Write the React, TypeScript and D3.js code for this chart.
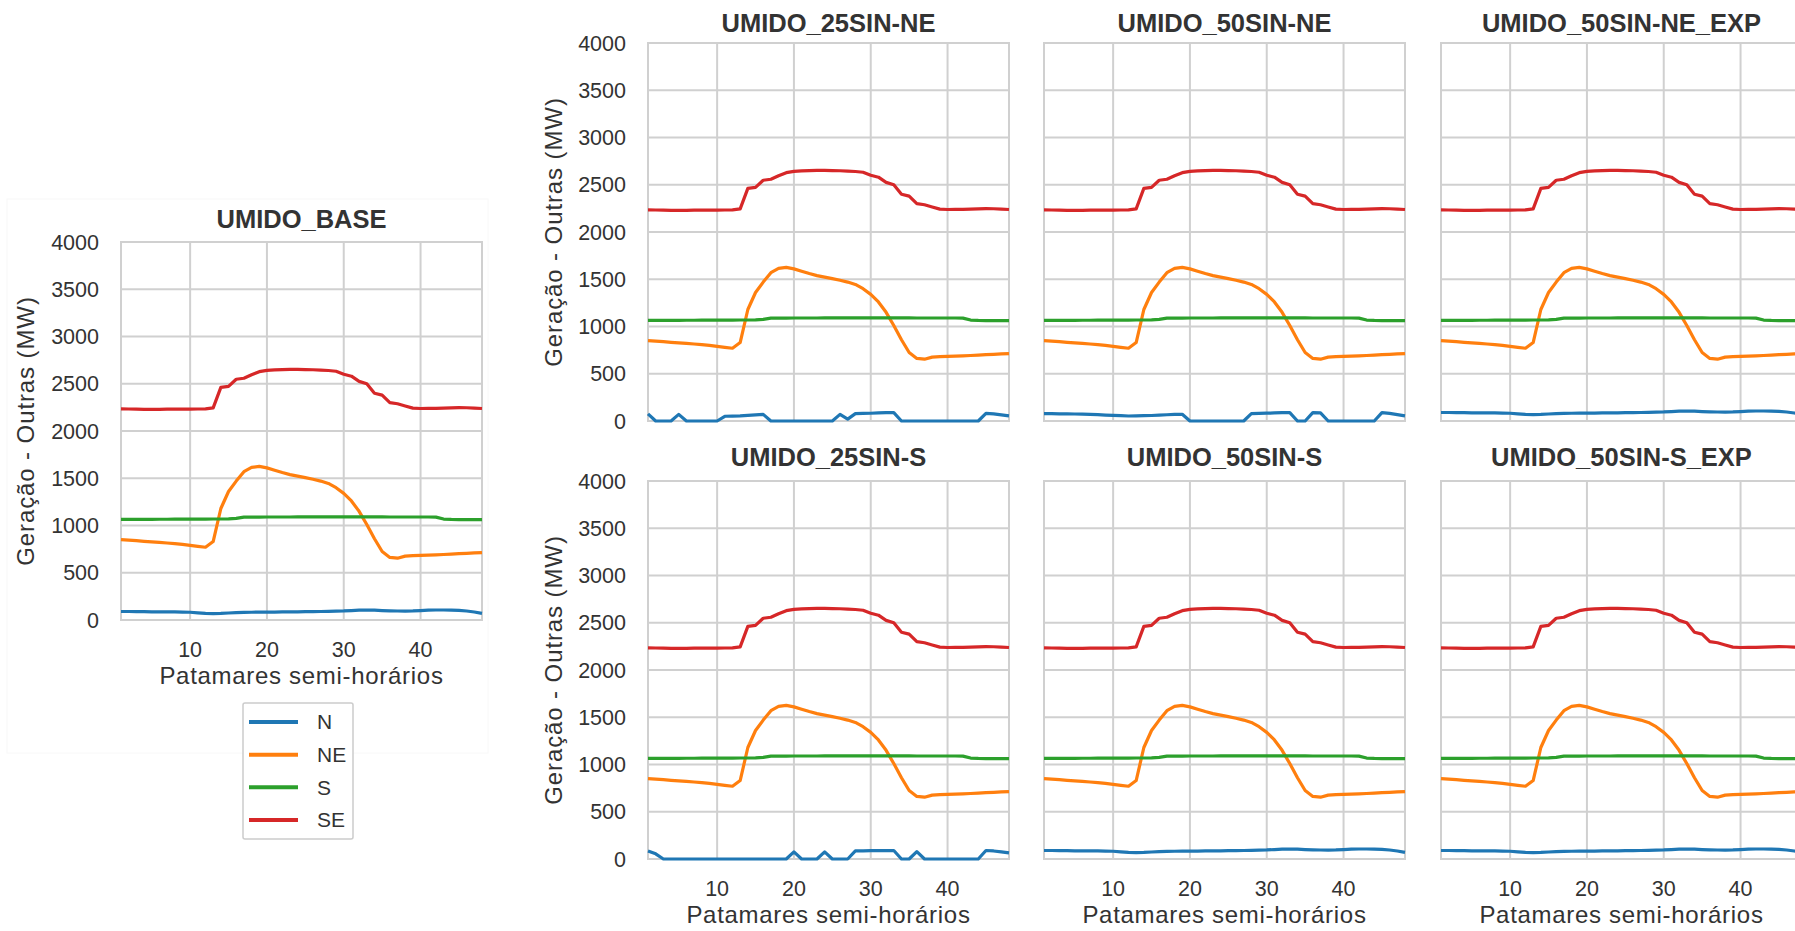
import React from "react";
import * as d3 from "d3";

// ---------- data ----------
const patamares: number[] = d3.range(1, 49);

const regions = ["N", "NE", "S", "SE"];
const regionColors = ["#1f77b4", "#ff7f0e", "#2ca02c", "#d62728"];

const seriesSE = [2235, 2233, 2231, 2229, 2228, 2229, 2231, 2232, 2232, 2232, 2233, 2235, 2245, 2462, 2472, 2548, 2558, 2595, 2628, 2642, 2646, 2650, 2652, 2652, 2650, 2648, 2645, 2640, 2632, 2600, 2580, 2525, 2500, 2400, 2380, 2300, 2288, 2265, 2242, 2238, 2240, 2240, 2242, 2245, 2248, 2246, 2242, 2238];

const seriesNE = [850, 845, 839, 833, 827, 821, 815, 808, 800, 790, 780, 770, 830, 1180, 1360, 1470, 1570, 1615, 1625, 1610, 1585, 1560, 1538, 1522, 1506, 1490, 1470, 1445, 1400, 1340, 1260, 1150, 1010, 860, 725, 662, 654, 676, 681, 684, 686, 689, 693, 697, 702, 706, 710, 714];

const seriesS = [1065, 1065, 1064, 1064, 1065, 1066, 1066, 1067, 1067, 1068, 1068, 1068, 1069, 1069, 1070, 1075, 1088, 1089, 1089, 1090, 1090, 1090, 1090, 1091, 1091, 1091, 1092, 1092, 1092, 1092, 1092, 1091, 1091, 1091, 1091, 1090, 1090, 1090, 1090, 1090, 1090, 1089, 1068, 1064, 1063, 1063, 1063, 1063];

const seriesN_base = [90, 90, 89, 88, 87, 86, 86, 85, 84, 82, 76, 70, 68, 70, 74, 78, 80, 82, 83, 84, 84, 85, 86, 87, 88, 89, 90, 92, 94, 96, 100, 104, 106, 104, 100, 97, 95, 94, 96, 100, 104, 106, 106, 105, 102, 95, 85, 70];

const seriesN_25NE = [75, 0, 0, 0, 70, 0, 0, 0, 0, 0, 50, 52, 55, 60, 65, 70, 0, 0, 0, 0, 0, 0, 0, 0, 0, 70, 20, 78, 80, 82, 85, 88, 88, 0, 0, 0, 0, 0, 0, 0, 0, 0, 0, 0, 80, 75, 65, 55];

const seriesN_50NE = [78, 77, 76, 75, 74, 72, 70, 67, 63, 60, 56, 53, 54, 56, 58, 62, 66, 70, 71, 0, 0, 0, 0, 0, 0, 0, 0, 78, 80, 83, 85, 88, 89, 0, 0, 88, 86, 0, 0, 0, 0, 0, 0, 0, 88, 80, 68, 55];

const seriesN_25S = [85, 55, 0, 0, 0, 0, 0, 0, 0, 0, 0, 0, 0, 0, 0, 0, 0, 0, 0, 75, 0, 0, 0, 75, 0, 0, 0, 85, 86, 88, 88, 89, 90, 0, 0, 78, 0, 0, 0, 0, 0, 0, 0, 0, 90, 85, 75, 65];

const yTicks = [0, 500, 1000, 1500, 2000, 2500, 3000, 3500, 4000];
const xTicks = [10, 20, 30, 40];

const titles = [
  "UMIDO_BASE",
  "UMIDO_25SIN-NE",
  "UMIDO_50SIN-NE",
  "UMIDO_50SIN-NE_EXP",
  "UMIDO_25SIN-S",
  "UMIDO_50SIN-S",
  "UMIDO_50SIN-S_EXP",
];
const nSeriesPerPanel = [
  seriesN_base,
  seriesN_25NE,
  seriesN_50NE,
  seriesN_base,
  seriesN_25S,
  seriesN_base,
  seriesN_base,
];

const yLabel = "Geração - Outras (MW)";
const xLabel = "Patamares semi-horários";

// ---------- layout ----------
const W = 1795;
const H = 931;
const PW = 361;
const PH = 378;
const FONT = "'Liberation Sans', Arial, Helvetica, sans-serif";
const TEXT = "#333333";
const GRID = "#d0d0d0";

type PanelProps = {
  left: number;
  top: number;
  title: string;
  titleY: number;
  nSeries: number[];
  yTickLabels: boolean;
  xTickLabels: boolean;
  yAxisLabel: boolean;
  yLabelX: number;
};

function Panel(p: PanelProps) {
  const x = d3.scaleLinear().domain([1, 48]).range([p.left, p.left + PW]);
  const y = d3.scaleLinear().domain([0, 4000]).range([p.top + PH, p.top]);
  const line = d3
    .line<number>()
    .x((_, i) => x(patamares[i]))
    .y((v) => y(v));
  const all = [p.nSeries, seriesNE, seriesS, seriesSE];
  const bottom = p.top + PH;
  return (
    <g>
      <rect x={p.left} y={p.top} width={PW} height={PH} fill="#fff" />
      {yTicks.map((t) => (
        <line key={"gy" + t} x1={p.left} x2={p.left + PW} y1={y(t)} y2={y(t)} stroke={GRID} strokeWidth={2} />
      ))}
      {xTicks.map((t) => (
        <line key={"gx" + t} x1={x(t)} x2={x(t)} y1={p.top} y2={bottom} stroke={GRID} strokeWidth={2} />
      ))}
      <rect x={p.left} y={p.top} width={PW} height={PH} fill="none" stroke={GRID} strokeWidth={2} />
      {all.map((s, k) => (
        <path key={regions[k]} d={line(s) || ""} fill="none" stroke={regionColors[k]} strokeWidth={3.2} strokeLinejoin="round" />
      ))}
      <text x={p.left + PW / 2} y={p.titleY} textAnchor="middle" fontFamily={FONT} fontWeight="bold" fontSize={25.5} fill={TEXT}>
        {p.title}
      </text>
      {p.yTickLabels &&
        yTicks.map((t) => (
          <text key={"ty" + t} x={p.left - 22} y={y(t)} dy="0.35em" textAnchor="end" fontFamily={FONT} fontSize={21.5} fill={TEXT}>
            {t}
          </text>
        ))}
      {p.xTickLabels &&
        xTicks.map((t) => (
          <text key={"tx" + t} x={x(t)} y={bottom + 37} textAnchor="middle" fontFamily={FONT} fontSize={21.5} fill={TEXT}>
            {t}
          </text>
        ))}
      {p.xTickLabels && (
        <text x={p.left + PW / 2} y={bottom + 64} textAnchor="middle" fontFamily={FONT} fontSize={24} letterSpacing={0.7} fill={TEXT}>
          {xLabel}
        </text>
      )}
      {p.yAxisLabel && (
        <text
          transform={`translate(${p.yLabelX},${p.top + PH / 2}) rotate(-90)`}
          textAnchor="middle"
          dy="0.35em"
          fontFamily={FONT}
          fontSize={24}
          letterSpacing={0.9}
          fill={TEXT}
        >
          {yLabel}
        </text>
      )}
    </g>
  );
}

export default function App() {
  const colLefts = [648, 1044, 1441];
  const rowTops = [43, 481];
  const rowTitleY = [32, 466];
  const legendY = d3.scaleLinear().domain([0, 3]).range([722, 820]);
  return (
    <svg
      width={W}
      height={H}
      viewBox={`0 0 ${W} ${H}`}
      style={{ position: "absolute", left: 0, top: 0, display: "block", background: "#fff" }}
    >
      <rect x={0} y={0} width={W} height={H} fill="#fff" />
      <rect x={7} y={199} width={481} height={554} fill="none" stroke="#f8f8f8" strokeWidth={1} />
      <Panel
        left={121}
        top={242}
        title={titles[0]}
        titleY={228}
        nSeries={nSeriesPerPanel[0]}
        yTickLabels={true}
        xTickLabels={true}
        yAxisLabel={true}
        yLabelX={26}
      />
      {[0, 1].map((r) =>
        [0, 1, 2].map((c) => {
          const idx = 1 + r * 3 + c;
          return (
            <Panel
              key={idx}
              left={colLefts[c]}
              top={rowTops[r]}
              title={titles[idx]}
              titleY={rowTitleY[r]}
              nSeries={nSeriesPerPanel[idx]}
              yTickLabels={c === 0}
              xTickLabels={r === 1}
              yAxisLabel={c === 0}
              yLabelX={554}
            />
          );
        })
      )}
      {/* legend */}
      <rect x={243} y={703} width={110} height={136} rx={2} fill="#fff" stroke="#cccccc" strokeWidth={1.5} />
      {regions.map((name, k) => (
        <g key={name}>
          <line x1={249} x2={298} y1={legendY(k)} y2={legendY(k)} stroke={regionColors[k]} strokeWidth={4} />
          <text x={317} y={legendY(k)} dy="0.35em" fontFamily={FONT} fontSize={21} fill={TEXT}>
            {name}
          </text>
        </g>
      ))}
    </svg>
  );
}
